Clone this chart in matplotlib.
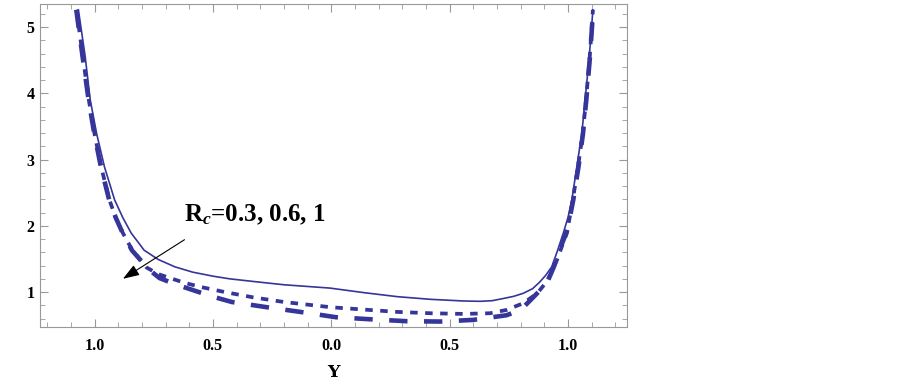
import matplotlib
matplotlib.use("Agg")
import matplotlib.pyplot as plt
from matplotlib.ticker import MultipleLocator, FixedLocator, FixedFormatter

plt.rcParams['mathtext.fontset'] = 'custom'
plt.rcParams['mathtext.bf'] = 'Liberation Serif:bold'
plt.rcParams['mathtext.it'] = 'Liberation Serif:italic:bold'
plt.rcParams['mathtext.rm'] = 'Liberation Serif:bold'

# values
x_solid = [-1.068, -1.04, -1.018, -0.991, -0.958, -0.915, -0.88, -0.845, -0.79, -0.73,
           -0.66, -0.585, -0.50, -0.43, -0.33, -0.20, -0.006, 0.14, 0.28, 0.42, 0.56,
           0.63, 0.68, 0.73, 0.77, 0.81, 0.85, 0.88, 0.905, 0.931, 0.955, 0.98, 1.0,
           1.016, 1.037, 1.058, 1.072, 1.09, 1.105]
y_solid = [5.26, 4.57, 3.90, 3.39, 2.89, 2.39, 2.12, 1.89, 1.63, 1.49,
           1.38, 1.30, 1.24, 1.20, 1.16, 1.11, 1.06, 0.99, 0.93, 0.89, 0.865,
           0.86, 0.87, 0.905, 0.935, 0.98, 1.05, 1.15, 1.25, 1.38, 1.62, 1.89, 2.13,
           2.39, 2.89, 3.39, 3.90, 4.57, 5.26]

x_dot = [-1.076, -1.05, -1.024, -1.0, -0.972, -0.937, -0.91, -0.88, -0.84, -0.80, -0.78,
         -0.73, -0.68, -0.62, -0.556, -0.45, -0.33, -0.2, 0.0, 0.14, 0.28, 0.42, 0.56,
         0.67, 0.74, 0.81, 0.87, 0.91, 0.935, 0.955, 0.975, 0.995, 1.02, 1.042, 1.062,
         1.076, 1.092, 1.105]
y_dot = [5.26, 4.57, 3.90, 3.39, 2.89, 2.39, 2.12, 1.89, 1.63, 1.46, 1.37,
         1.27, 1.21, 1.14, 1.08, 1.0, 0.92, 0.85, 0.77, 0.735, 0.70, 0.68, 0.67,
         0.68, 0.73, 0.83, 0.98, 1.16, 1.33, 1.5, 1.7, 1.89, 2.39, 2.89, 3.39,
         3.90, 4.57, 5.26]

x_dash = [-1.077, -1.051, -1.025, -1.001, -0.973, -0.938, -0.91, -0.881, -0.842, -0.80,
          -0.76, -0.725, -0.66, -0.585, -0.50, -0.42, -0.27, -0.13, 0.02, 0.16, 0.32,
          0.46, 0.60, 0.68, 0.74, 0.80, 0.85, 0.91, 0.94, 0.96, 0.98, 0.998, 1.022,
          1.044, 1.063, 1.077, 1.093, 1.106]
y_dash = [5.26, 4.57, 3.90, 3.39, 2.89, 2.39, 2.12, 1.89, 1.63, 1.46,
          1.31, 1.21, 1.12, 1.03, 0.93, 0.85, 0.77, 0.70, 0.62, 0.59, 0.56,
          0.555, 0.58, 0.62, 0.65, 0.73, 0.91, 1.13, 1.38, 1.6, 1.78, 1.95, 2.39,
          2.89, 3.39, 3.90, 4.57, 5.26]

xtick_pos = [-1.0, -0.5, 0.0, 0.5, 1.0]
xtick_labels = ['1.0', '0.5', '0.0', '0.5', '1.0']
ytick_pos = [1, 2, 3, 4, 5]

col = '#35359a'

fig = plt.figure(figsize=(9.02, 3.84), dpi=100)
ax = fig.add_axes([0.0444, 0.148, 0.651, 0.842])

ax.plot(x_solid, y_solid, color=col, lw=1.2)
ax.plot(x_dot, y_dot, color=col, lw=2.7, dashes=(2.0, 2.0))
ax.plot(x_dash, y_dash, color=col, lw=3.3, dashes=(4.0, 3.6))

ax.set_xlim(-1.23, 1.25)
ax.set_ylim(0.47, 5.35)

ax.xaxis.set_major_locator(FixedLocator(xtick_pos))
ax.xaxis.set_major_formatter(FixedFormatter(xtick_labels))
ax.xaxis.set_minor_locator(MultipleLocator(0.1))
ax.yaxis.set_major_locator(FixedLocator(ytick_pos))
ax.yaxis.set_minor_locator(MultipleLocator(0.2))

ax.tick_params(which='both', direction='in', top=True, right=True, color='#999999')
ax.tick_params(which='major', length=6, width=0.8)
ax.tick_params(which='minor', length=3.5, width=0.6)
ax.tick_params(axis='x', pad=8)
ax.tick_params(axis='y', pad=4)
for lab in ax.get_xticklabels() + ax.get_yticklabels():
    lab.set_fontfamily('Liberation Serif')
    lab.set_fontweight('bold')
    lab.set_fontsize(11.5)
for sp in ax.spines.values():
    sp.set_color('#999999')
    sp.set_linewidth(0.8)

ax.set_xlabel('Y', fontfamily='DejaVu Serif', fontweight='bold', fontsize=12.5, labelpad=7)

ax.annotate('', xy=(-0.88, 1.2), xytext=(-0.62, 1.79),
            arrowprops=dict(arrowstyle='-|>,head_length=1.0,head_width=0.35',
                            color='black', lw=0.8, shrinkA=0, shrinkB=0))
ax.text(-0.624, 2.07, r'$\mathbf{R}_{\mathit{c}}$' + '=0.3, 0.6, 1',
        fontfamily='Liberation Serif', fontweight='bold', fontsize=18,
        ha='left', va='baseline')

fig.savefig('out.png', dpi=100)
